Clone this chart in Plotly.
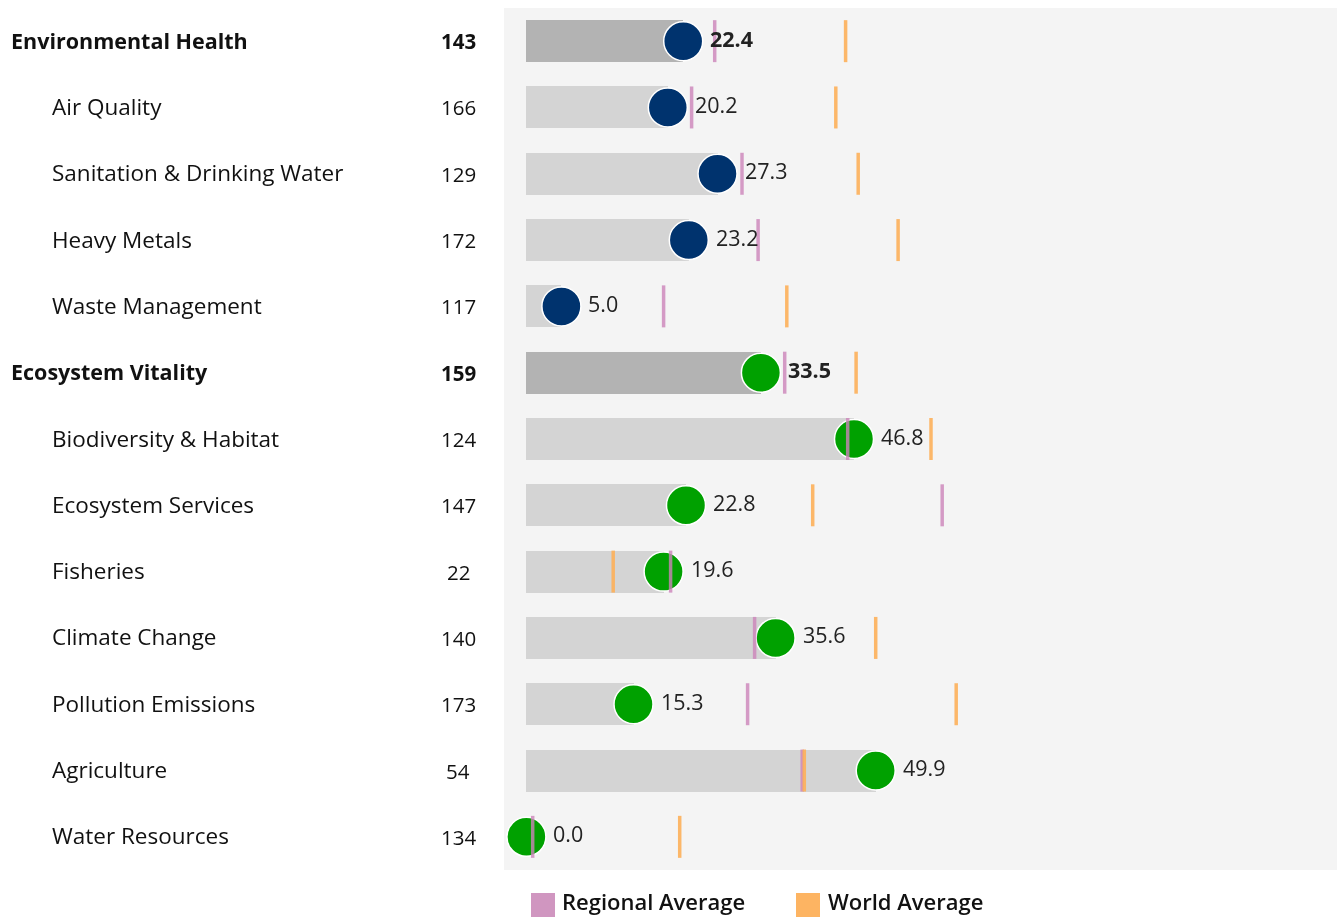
import plotly.graph_objects as go

categories = ["Environmental Health", "Air Quality", "Sanitation & Drinking Water",
              "Heavy Metals", "Waste Management", "Ecosystem Vitality",
              "Biodiversity & Habitat", "Ecosystem Services", "Fisheries",
              "Climate Change", "Pollution Emissions", "Agriculture", "Water Resources"]
is_header = [True, False, False, False, False, True, False, False, False, False, False, False, False]
group = ["EH"] * 5 + ["EV"] * 8
ranks = [143, 166, 129, 172, 117, 159, 124, 147, 22, 140, 173, 54, 134]
scores = [22.4, 20.2, 27.3, 23.2, 5.0, 33.5, 46.8, 22.8, 19.6, 35.6, 15.3, 49.9, 0.0]
regional_avg = [26.9, 23.6, 30.8, 33.1, 19.6, 36.9, 45.9, 59.4, 20.6, 32.6, 31.6, 39.4, 0.9]
world_avg = [45.6, 44.2, 47.4, 53.1, 37.2, 47.1, 57.8, 40.9, 12.4, 49.9, 61.4, 39.7, 21.9]

FONT = "Open Sans"
rows = list(range(len(categories)))
bar_colors = ["#b3b3b3" if h else "#d4d4d4" for h in is_header]
dot_colors = ["#00336e" if g == "EH" else "#00a100" for g in group]
PINK = "#d096c0"
ORANGE = "#fdb462"
PINK_LINE = "rgb(204,132,186)"
ORANGE_LINE = "rgb(253,176,90)"

fig = go.Figure()
fig.add_trace(go.Bar(x=scores, y=rows, orientation="h", base=0, width=0.633,
                     marker=dict(color=bar_colors, line=dict(width=0)),
                     hoverinfo="skip", showlegend=False))
fig.add_trace(go.Scatter(x=scores, y=rows, mode="markers",
                         marker=dict(size=39, color=dot_colors, line=dict(color="white", width=1.5)),
                         showlegend=False, cliponaxis=False))
fig.add_trace(go.Scatter(x=regional_avg, y=rows, mode="markers", name="Regional Average",
                         marker=dict(symbol="line-ns", size=30, line=dict(color=PINK_LINE, width=3.5)),
                         opacity=0.8, showlegend=False))
fig.add_trace(go.Scatter(x=world_avg, y=rows, mode="markers", name="World Average",
                         marker=dict(symbol="line-ns", size=30, line=dict(color=ORANGE_LINE, width=3.5)),
                         opacity=0.9, showlegend=False))

annotations = []
L, W = 504, 833
def px(xp):
    return (xp - L) / W

for i, (name, h, rk, sc) in enumerate(zip(categories, is_header, ranks, scores)):
    annotations.append(dict(x=px(9 if h else 50), xref="paper", y=i, yref="y",
                            text=f"<b>{name}</b>" if h else name, showarrow=False,
                            xanchor="left", yanchor="middle", yshift=1,
                            font=dict(family=FONT, size=21.5 if h else 22.5, color="#111111")))
    annotations.append(dict(x=px(458), xref="paper", y=i, yref="y",
                            text=f"<b>{rk}</b>" if h else str(rk), showarrow=False,
                            xanchor="center", yanchor="middle", yshift=0,
                            font=dict(family=FONT, size=20.5, color="#111111")))
    annotations.append(dict(x=sc, xref="x", y=i, yref="y",
                            text=f"<b>{sc:.1f}</b>" if h else f"{sc:.1f}", showarrow=False,
                            xanchor="left", yanchor="middle", xshift=25, yshift=3,
                            font=dict(family=FONT, size=21.5, color="#222222")))

PH = 862
def py(ypix):
    return (870 - ypix) / PH

shapes = [
    dict(type="rect", xref="paper", yref="paper", x0=px(531), x1=px(555), y0=py(917), y1=py(893),
         fillcolor=PINK, line=dict(width=0)),
    dict(type="rect", xref="paper", yref="paper", x0=px(796), x1=px(820), y0=py(917), y1=py(893),
         fillcolor=ORANGE, line=dict(width=0)),
]
for xl, label in [(561, "Regional Average"), (827, "World Average")]:
    annotations.append(dict(x=px(xl), xref="paper", y=py(917), yref="paper", text=label,
                            showarrow=False, xanchor="left", yanchor="bottom", borderpad=0,
                            font=dict(family=FONT, size=22, weight=600, color="#111111")))

fig.update_layout(
    width=1337, height=917,
    margin=dict(l=504, r=0, t=8, b=47),
    paper_bgcolor="white", plot_bgcolor="#f4f4f4",
    xaxis=dict(range=[-3.2, 115.8], showgrid=False, zeroline=False, showticklabels=False, fixedrange=True),
    yaxis=dict(range=[12.5, -0.5], showgrid=False, zeroline=False, showticklabels=False, fixedrange=True),
    annotations=annotations, shapes=shapes, showlegend=False, bargap=0,
)
fig.write_html("out.html", config={"displayModeBar": False},
               post_script="document.body.style.margin='0';document.body.style.overflow='hidden';")
